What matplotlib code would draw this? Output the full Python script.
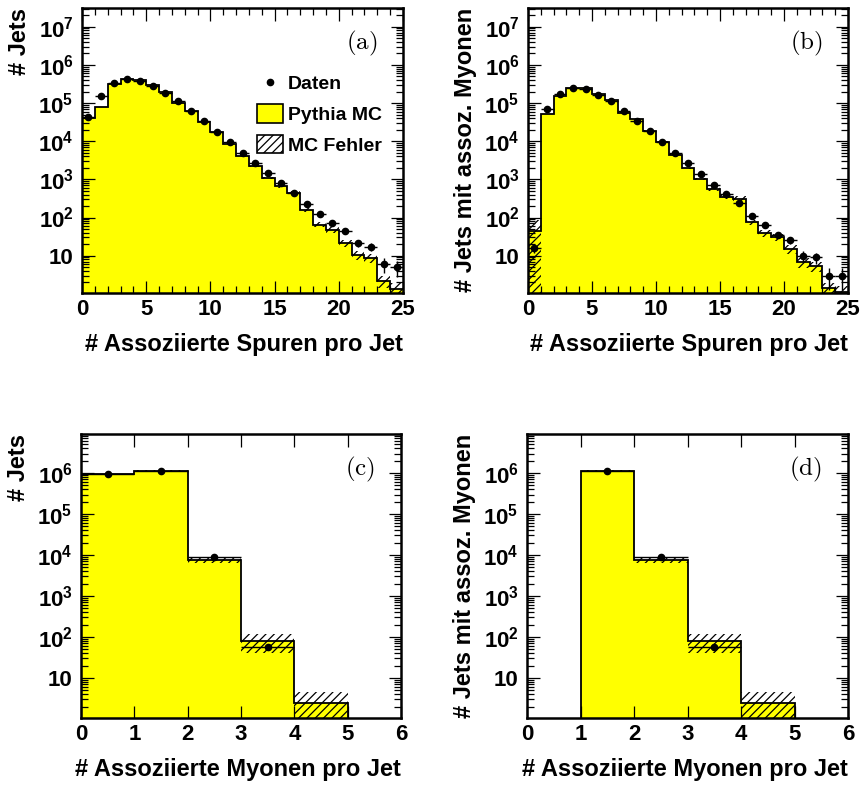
import numpy as np
import matplotlib
matplotlib.use("Agg")
import matplotlib.pyplot as plt
from matplotlib.ticker import FixedLocator, MultipleLocator, LogLocator, NullLocator
from matplotlib.lines import Line2D
from matplotlib.patches import Patch

plt.rcParams['font.family'] = ['Liberation Sans', 'DejaVu Sans']
plt.rcParams['font.weight'] = 'bold'
plt.rcParams['axes.labelweight'] = 'bold'
plt.rcParams['mathtext.fontset'] = 'custom'
plt.rcParams['mathtext.rm'] = 'Liberation Sans:bold'
plt.rcParams['mathtext.default'] = 'rm'
plt.rcParams['hatch.linewidth'] = 0.9

# Assoziierte Spuren pro Jet (alle Jets)
trk_edges = np.arange(0, 26)
trk_mc_a = [40000, 78000, 316000, 427000, 398000, 295000, 200000, 102000, 62000,
            31600, 17800, 8500, 4100, 2200, 1070, 650, 450, 160, 65, 48, 21,
            10.5, 8.7, 2.2, 1.3]
trk_err_a = [0.01, 0.01, 0.01, 0.01, 0.01, 0.01, 0.01, 0.01, 0.01, 0.01, 0.01,
             0.02, 0.02, 0.03, 0.05, 0.07, 0.1, 0.12, 0.15, 0.18, 0.2, 0.28,
             0.25, 0.35, 0.5]
trk_data_a = [44000, 155000, 331000, 427000, 389000, 288000, 186000, 115000,
              63000, 33900, 17800, 9800, 5000, 2630, 1450, 790, 450, 230, 123,
              71, 45, 21, 17, 6, 5]

# Assoziierte Spuren pro Jet (Jets mit assoz. Myonen)
trk_mc_b = [43, 51000, 155000, 245000, 245000, 170000, 120000, 56000, 38000,
            19000, 9800, 4400, 1950, 1000, 560, 355, 310, 74, 39, 31, 15, 6.8,
            5.2, 1.4, 1.1]
trk_err_b = [1.0, 0.01, 0.01, 0.01, 0.01, 0.01, 0.01, 0.01, 0.01, 0.02, 0.02,
             0.03, 0.04, 0.06, 0.1, 0.15, 0.2, 0.15, 0.2, 0.2, 0.25, 0.3, 0.3,
             0.4, 0.5]
trk_data_b = [16, 69000, 174000, 245000, 229000, 162000, 110000, 63000, 34700,
              18600, 9800, 5000, 2630, 1380, 720, 410, 240, 107, 62, 35, 25, 10,
              9, 3, 3]

# Assoziierte Myonen pro Jet
mu_edges = np.arange(0, 7)
mu_mc_c = [950000, 1150000, 7700, 78, 2.5, 0]
mu_err_c = [15000, 18000, 1300, 38, 2.0, 0]
mu_data_c = [950000, 1150000, 8900, 56, 0, 0]
mu_mc_d = [0, 1150000, 7700, 78, 2.5, 0]
mu_err_d = [0, 18000, 1300, 38, 2.0, 0]
mu_data_d = [0, 1150000, 8900, 56, 0, 0]

W, H = 863, 787
fig = plt.figure(figsize=(W / 100, H / 100), dpi=100)


def add_ax(x0, y0, x1, y1):
    return fig.add_axes([x0 / W, 1 - y1 / H, (x1 - x0) / W, (y1 - y0) / H])


def draw(ax, edges, mc, err, data):
    mc = np.asarray(mc, float)
    err = np.asarray(err, float)
    data = np.asarray(data, float)
    ax.stairs(mc, edges, baseline=1e-3, fill=True, facecolor='#ffff00',
              edgecolor='none', zorder=1)
    lo = np.clip(mc - err, 1e-3, None)
    ax.stairs(mc + err, edges, baseline=lo, fill=True, facecolor='none',
              edgecolor='black', hatch='////', linewidth=0, zorder=2)
    ax.stairs(mc, edges, baseline=None, color='black', linewidth=1.3, zorder=3)
    c = 0.5 * (edges[1:] + edges[:-1])
    m = data > 0
    ax.errorbar(c[m], data[m], xerr=0.5, yerr=np.sqrt(data[m]), fmt='o',
                ms=4.5, color='black', ecolor='black', elinewidth=1,
                capsize=0, zorder=4)


def style(ax, xmax, ymax, xmajor, xminor, ylabel, xlabel, tag):
    ax.set_yscale('log')
    ax.set_xlim(0, xmax)
    ax.set_ylim(1.05, ymax)
    ax.xaxis.set_major_locator(MultipleLocator(xmajor))
    if xminor:
        ax.xaxis.set_minor_locator(MultipleLocator(xminor))
    else:
        ax.xaxis.set_minor_locator(NullLocator())
    yt = [10, 1e2, 1e3, 1e4, 1e5, 1e6, 1e7]
    yt = [v for v in yt if v < ymax]
    ax.yaxis.set_major_locator(FixedLocator(yt))
    ax.set_yticklabels(['10' if v == 10 else '10$^{%d}$' % round(np.log10(v)) for v in yt])
    ax.yaxis.set_minor_locator(LogLocator(base=10, subs=np.arange(2, 10), numticks=20))
    ax.tick_params(which='both', direction='in', top=True, right=True,
                   labelsize=16, width=0.9)
    ax.tick_params(which='major', length=9)
    ax.tick_params(which='minor', length=5)
    ax.tick_params(axis='x', pad=4)
    ax.tick_params(axis='y', pad=6)
    for s in ax.spines.values():
        s.set_linewidth(1.8)
    ax.set_ylabel(ylabel, fontsize=17, loc='top')
    ax.yaxis.set_label_coords(-0.16, 1.0)
    ax.set_xlabel(xlabel, fontsize=17, loc='right')
    ax.xaxis.set_label_coords(1.0, -0.14)
    ax.text(0.92, 0.875, r'$\mathrm{(%s)}$' % tag, transform=ax.transAxes,
            ha='right', va='center', fontsize=18, math_fontfamily='cm')


ax_a = add_ax(82, 8, 403, 293)
draw(ax_a, trk_edges, trk_mc_a, np.array(trk_mc_a) * np.array(trk_err_a), trk_data_a)
style(ax_a, 25, 3.1e7, 5, 1, '# Jets', '# Assoziierte Spuren pro Jet', 'a')

ax_b = add_ax(528, 8, 848, 293)
draw(ax_b, trk_edges, trk_mc_b, np.array(trk_mc_b) * np.array(trk_err_b), trk_data_b)
style(ax_b, 25, 3.1e7, 5, 1, '# Jets mit assoz. Myonen', '# Assoziierte Spuren pro Jet', 'b')

ax_c = add_ax(81, 434, 401, 718)
draw(ax_c, mu_edges, mu_mc_c, mu_err_c, mu_data_c)
style(ax_c, 6, 9e6, 1, None, '# Jets', '# Assoziierte Myonen pro Jet', 'c')

ax_d = add_ax(527, 434, 848, 718)
draw(ax_d, mu_edges, mu_mc_d, mu_err_d, mu_data_d)
style(ax_d, 6, 9e6, 1, None, '# Jets mit assoz. Myonen', '# Assoziierte Myonen pro Jet', 'd')

handles = [Line2D([], [], marker='o', ls='none', color='black', ms=4.5),
           Patch(facecolor='#ffff00', edgecolor='black', linewidth=1.2),
           Patch(facecolor='white', edgecolor='black', hatch='////', linewidth=1.2)]
ax_a.legend(handles, ['Daten', 'Pythia MC', 'MC Fehler'], loc='upper left',
            bbox_to_anchor=(0.545, 0.77), frameon=False, fontsize=14,
            borderpad=0, borderaxespad=0, handlelength=1.35, handleheight=1.1,
            handletextpad=0.25, labelspacing=0.55)

fig.savefig('out.png', dpi=100)
